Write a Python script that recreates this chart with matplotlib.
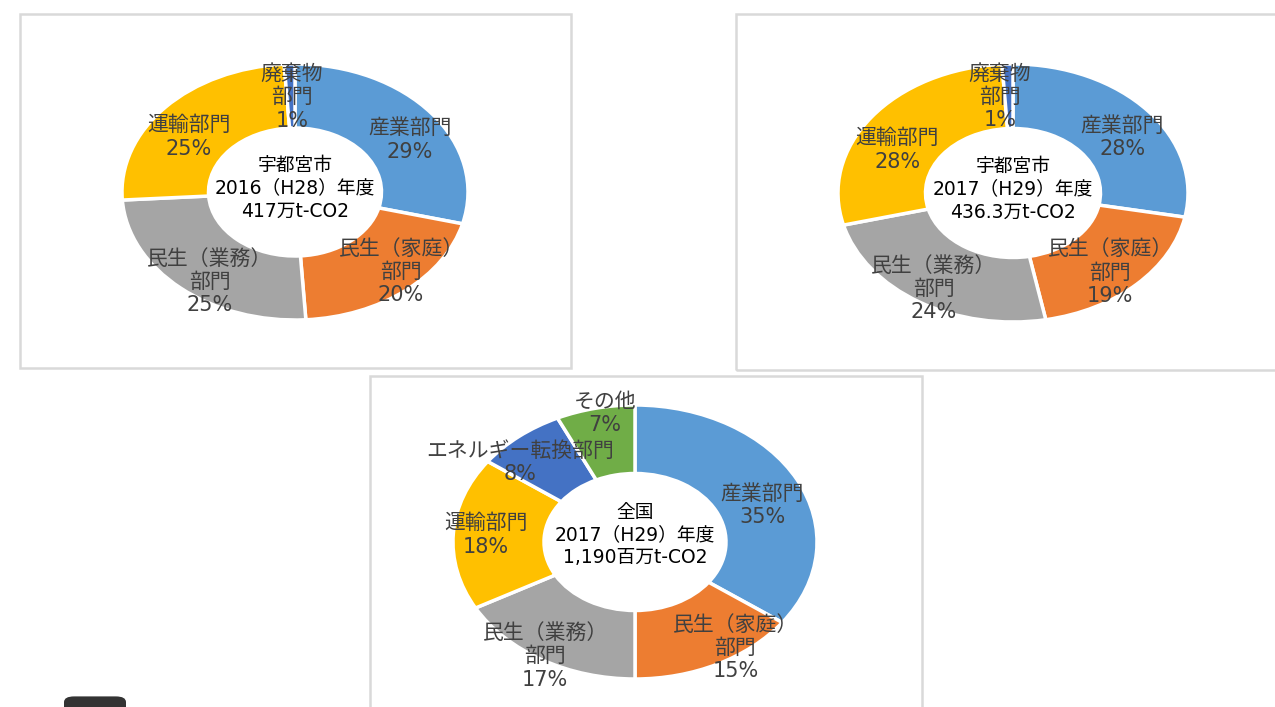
import matplotlib
matplotlib.use("Agg")
import matplotlib.pyplot as plt
import numpy as np
from matplotlib.patches import Rectangle, FancyBboxPatch

plt.rcParams['font.family'] = ['DejaVu Sans', 'Noto Sans CJK JP']

# ---- data ----
labels_utsu = ["産業部門", "民生（家庭）\n部門", "民生（業務）\n部門", "運輸部門", "廃棄物\n部門"]
values_2016 = [29, 20, 25, 25, 1]
values_2017 = [28, 19, 24, 28, 1]
labels_nat = ["産業部門", "民生（家庭）\n部門", "民生（業務）\n部門", "運輸部門", "エネルギー転換部門", "その他"]
values_nat = [35, 15, 17, 18, 8, 7]
center_2016 = "宇都宮市\n2016（H28）年度\n417万t-CO2"
center_2017 = "宇都宮市\n2017（H29）年度\n436.3万t-CO2"
center_nat = "全国\n2017（H29）年度\n1,190百万t-CO2"

colors_utsu = ["#5B9BD5", "#ED7D31", "#A5A5A5", "#FFC000", "#4472C4"]
colors_nat = ["#5B9BD5", "#ED7D31", "#A5A5A5", "#FFC000", "#4472C4", "#70AD47"]

W, H = 1275, 707
fig = plt.figure(figsize=(W / 100, H / 100), dpi=100)
fig.patch.set_facecolor("white")


def frame(x0, y0, x1, y1):
    fig.add_artist(Rectangle((x0 / W, 1 - y1 / H), (x1 - x0) / W, (y1 - y0) / H,
                             transform=fig.transFigure, fill=False,
                             edgecolor="#d9d9d9", linewidth=1.8))


frame(20, 14, 571, 368)
frame(736, 14, 1290, 370)
frame(370, 376, 922, 720)


def donut(cx, cy, rx, ry, values, labels, colors, center, lab_r, lab_dt,
          cy_off=0.04, fs=15):
    ax = fig.add_axes([(cx - rx) / W, 1 - (cy + ry) / H, 2 * rx / W, 2 * ry / H])
    ax.pie(values, colors=colors, startangle=90, counterclock=False,
           wedgeprops=dict(width=0.5, edgecolor="white", linewidth=2.5))
    ax.set_aspect("auto")
    ax.set_xlim(-1, 1)
    ax.set_ylim(-1, 1)
    ax.axis("off")
    total = sum(values)
    cum = 0
    for v, lab, r, dt in zip(values, labels, lab_r, lab_dt):
        mid = (cum + v / 2) / total * 2 * np.pi + np.deg2rad(dt)
        cum += v
        x = r * np.sin(mid)
        y = r * np.cos(mid)
        pct = f"{round(v / total * 100):d}%"
        ax.text(x, y, lab + "\n" + pct, ha="center", va="center", fontsize=fs,
                color="#404040", linespacing=1.2, clip_on=False)
    ax.text(0, cy_off, center, ha="center", va="center", fontsize=13.5,
            color="black", linespacing=1.25)


donut(295, 192, 173, 128, values_2016, labels_utsu, colors_utsu, center_2016,
      [0.78, 0.875, 0.86, 0.75, 0.74], [6.4, -4.9, -6.4, -6.4, 0.5], cy_off=0.03)
donut(1013, 193, 175, 129, values_2017, labels_utsu, colors_utsu, center_2017,
      [0.76, 0.83, 0.87, 0.74, 0.75], [5, 3, -1, -9.2, -4], cy_off=0.03)
donut(635, 542, 182, 137, values_nat, labels_nat, colors_nat, center_nat,
      [0.75, 0.95, 0.97, 0.82, 0.86, 0.95], [6, -8.5, 0, 0, -7.8, 2.6], cy_off=0.05)

fig.add_artist(FancyBboxPatch((64 / W, -0.02), 62 / W, 0.035,
                              boxstyle="round,pad=0,rounding_size=0.008",
                              transform=fig.transFigure, facecolor="#333333",
                              edgecolor="none"))

fig.savefig("out.png", dpi=100)
